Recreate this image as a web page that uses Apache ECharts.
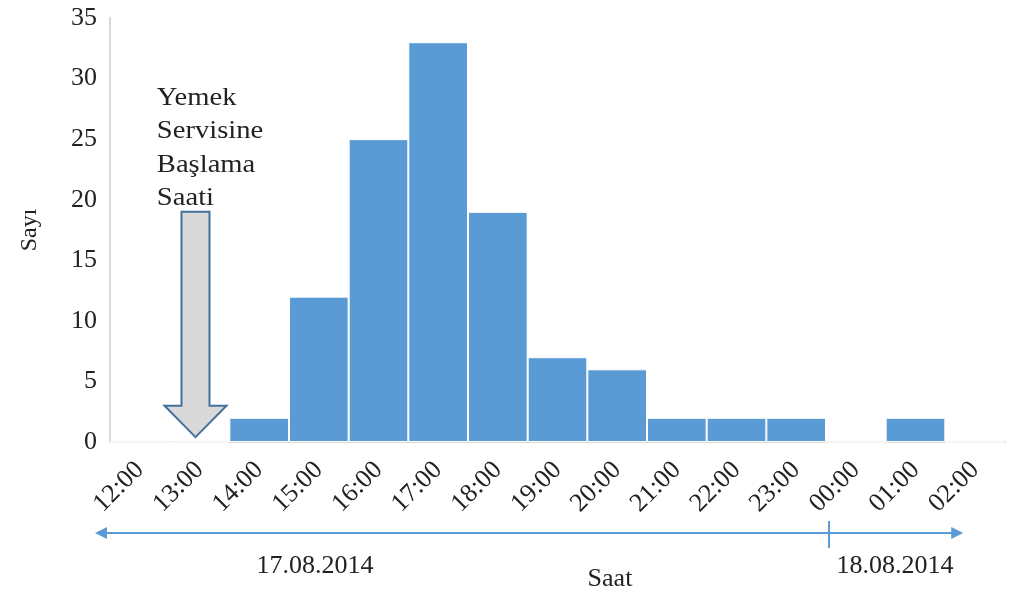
<!DOCTYPE html>
<html><head><meta charset="utf-8">
<script src="https://cdn.jsdelivr.net/npm/echarts@6/dist/echarts.min.js"></script>
<style>html,body{margin:0;padding:0;background:#fff}#c{width:1028px;height:595px}</style>
</head><body><div id="c"></div>
<script>
const categories = ['12:00','13:00','14:00','15:00','16:00','17:00','18:00','19:00','20:00','21:00','22:00','23:00','00:00','01:00','02:00'];
const counts = [0,0,2,12,25,33,19,7,6,2,2,2,0,2,0];
const yTicks = {min:0, max:35, interval:5};
const annotationLines = ['Yemek','Servisine','Başlama','Saati'];
const dateLeft = '17.08.2014', dateRight = '18.08.2014', xTitle = 'Saat', yTitle = 'Sayı';

const FONT = '"Liberation Serif", "DejaVu Serif", serif';
const FS = 26;
const chart = echarts.init(document.getElementById('c'));
chart.setOption({
  animation:false,
  grid:{left:110,right:23,top:18,bottom:153},
  xAxis:{type:'category',data:categories,
    axisLine:{lineStyle:{color:'#d9d9d9',width:2}},axisTick:{show:false},
    axisLabel:{rotate:45,fontFamily:FONT,fontSize:FS,color:'#222',margin:24}},
  yAxis:{type:'value',min:yTicks.min,max:yTicks.max,interval:yTicks.interval,
    name:yTitle,nameLocation:'middle',nameGap:68,nameTextStyle:{fontFamily:FONT,fontSize:24,color:'#222'},
    splitLine:{show:false},axisLine:{show:true,lineStyle:{color:'#d9d9d9',width:2}},axisTick:{show:false},
    axisLabel:{fontFamily:FONT,fontSize:FS,color:'#222',margin:13}},
  series:[{type:'bar',data:counts,barCategoryGap:'0%',
    itemStyle:{color:'#5b9bd5',borderColor:'#ffffff',borderWidth:1}}]
});

function px(i,v){return chart.convertToPixel({gridIndex:0},[i,v]);}
const step = px(1,0)[0]-px(0,0)[0];
const ax = px(1,0)[0]-4;
const yTop = px(1,19)[1], yHead = px(1,3)[1], yTip = px(1,0.4)[1];
const arrow = [[ax-14,yTop],[ax+14,yTop],[ax+14,yHead],[ax+31,yHead],[ax,yTip],[ax-31,yHead],[ax-14,yHead]];
const graphics = [{type:'polygon',shape:{points:arrow},style:{fill:'#d9d9d9',stroke:'#41719c',lineWidth:2}}];
const textX = px(0,0)[0]+17;
annotationLines.forEach((t,k)=>{
  graphics.push({type:'text',x:textX,y:px(1,28.4)[1]+k*33.5,scaleX:1.1,style:{text:t,font:FS+'px '+FONT,fill:'#222',verticalAlign:'middle'}});
});
const ly = 533;
const lx0 = px(0,0)[0]-step/2-15, lx1 = px(14,0)[0]-12;
const bx = px(12,0)[0]-step/2+3;
const blue = '#5b9bd5';
graphics.push({type:'line',shape:{x1:lx0+8,y1:ly,x2:lx1-8,y2:ly},style:{stroke:blue,lineWidth:2}});
graphics.push({type:'polygon',shape:{points:[[lx0,ly],[lx0+12,ly-6],[lx0+12,ly+6]]},style:{fill:blue}});
graphics.push({type:'polygon',shape:{points:[[lx1,ly],[lx1-12,ly-6],[lx1-12,ly+6]]},style:{fill:blue}});
graphics.push({type:'line',shape:{x1:bx,y1:ly-12,x2:bx,y2:ly+15},style:{stroke:blue,lineWidth:2}});
graphics.push({type:'text',x:315,y:566,style:{text:dateLeft,font:FS+'px '+FONT,fill:'#222',align:'center',verticalAlign:'middle'}});
graphics.push({type:'text',x:895,y:566,style:{text:dateRight,font:FS+'px '+FONT,fill:'#222',align:'center',verticalAlign:'middle'}});
graphics.push({type:'text',x:610,y:579,style:{text:xTitle,font:FS+'px '+FONT,fill:'#222',align:'center',verticalAlign:'middle'}});
chart.setOption({graphic:graphics});
</script></body></html>
